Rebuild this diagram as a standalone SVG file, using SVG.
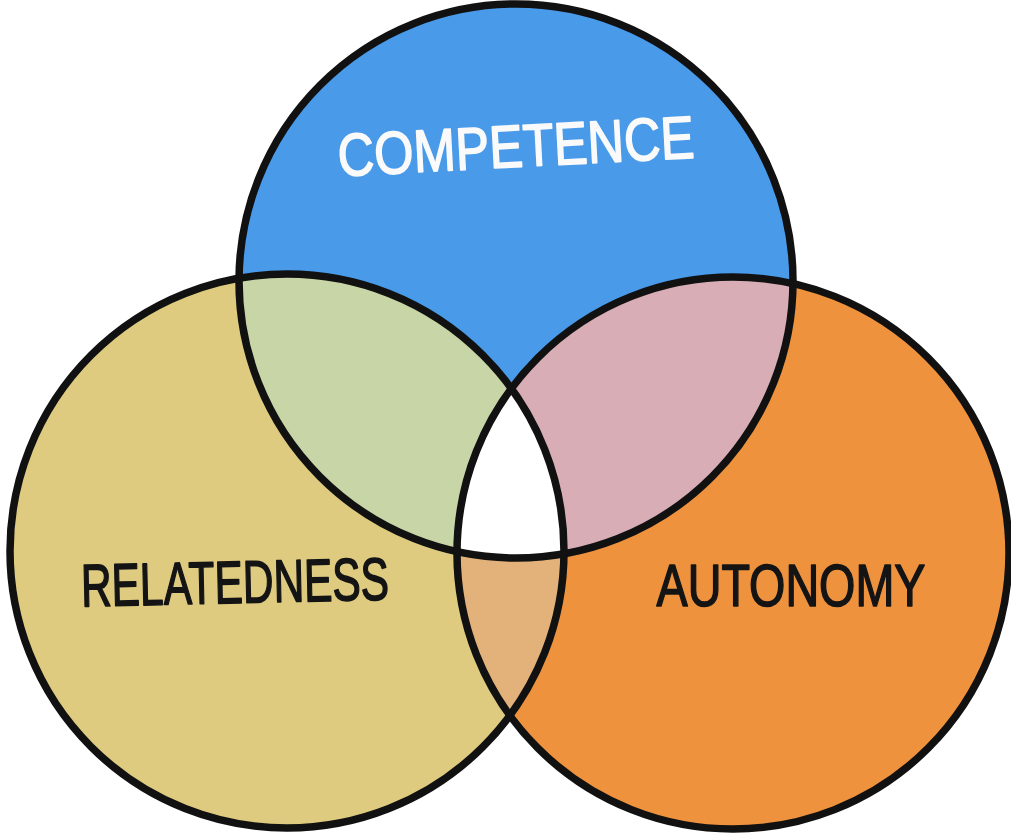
<svg xmlns="http://www.w3.org/2000/svg" width="1011" height="837" viewBox="0 0 1011 837">
<style>
.outline{fill:none;stroke:#111111;stroke-width:7.5}
.lbl{font-family:"Liberation Sans","DejaVu Sans",sans-serif;font-size:60px;text-anchor:middle;stroke-width:1.6;stroke-linejoin:round;lengthAdjust:spacingAndGlyphs}
.dark{fill:#141414;stroke:#141414}
.light{fill:#FAFAFA;stroke:#FAFAFA}
</style>
<defs>
<clipPath id="clipTop"><circle cx="516" cy="281" r="277"/></clipPath>
<clipPath id="clipLeft"><circle cx="287" cy="551" r="277"/></clipPath>
<clipPath id="clipRight"><circle cx="733" cy="553" r="276"/></clipPath>
</defs>
<rect width="1011" height="837" fill="#FFFFFF"/>
<g id="fills">
<circle cx="516" cy="281" r="277" fill="#4A9AEA"/>
<circle cx="287" cy="551" r="277" fill="#DECB7F"/>
<circle cx="733" cy="553" r="276" fill="#EE923E"/>
</g>
<g id="overlaps">
<circle cx="287" cy="551" r="277" fill="#C8D5A6" clip-path="url(#clipTop)"/>
<circle cx="733" cy="553" r="276" fill="#D8ADB5" clip-path="url(#clipTop)"/>
<circle cx="733" cy="553" r="276" fill="#E2B27A" clip-path="url(#clipLeft)"/>
<g clip-path="url(#clipTop)"><circle cx="733" cy="553" r="276" fill="#FFFFFF" clip-path="url(#clipLeft)"/></g>
</g>
<g id="competence">
<circle class="outline" cx="516" cy="281" r="277"/>
<text class="lbl light" x="516" y="167" textLength="357" lengthAdjust="spacingAndGlyphs" transform="rotate(-3 516 148)">COMPETENCE</text>
</g>
<g id="relatedness">
<circle class="outline" cx="287" cy="551" r="277"/>
<text class="lbl dark" x="235" y="603" textLength="308" lengthAdjust="spacingAndGlyphs" transform="rotate(-1.3 235 585)">RELATEDNESS</text>
</g>
<g id="autonomy">
<circle class="outline" cx="733" cy="553" r="276"/>
<text class="lbl dark" x="791" y="606" font-size="62" textLength="269" lengthAdjust="spacingAndGlyphs">AUTONOMY</text>
</g>
<g id="connectors"></g>
</svg>
